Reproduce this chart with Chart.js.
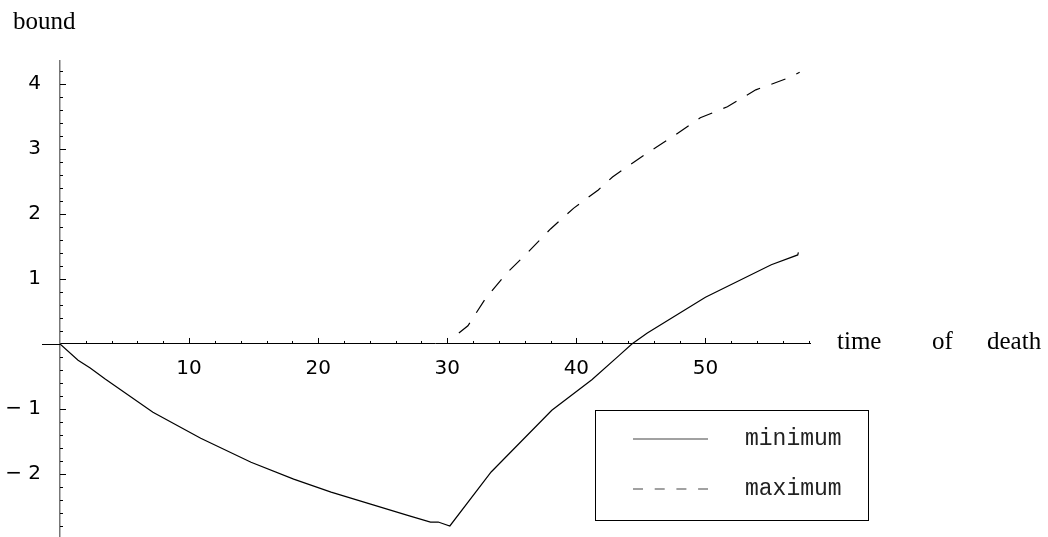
<!DOCTYPE html>
<html>
<head>
<meta charset="utf-8">
<style>
  html, body { margin: 0; padding: 0; background: #fff; }
  #wrap { width: 1048px; height: 537px; }
</style>
</head>
<body>
<div id="wrap"><canvas id="plot" width="1048" height="537"></canvas></div>
<script src="https://cdn.jsdelivr.net/npm/chart.js"></script>
<script>
// values
var minX = [0, 1.4, 2.34, 3.5, 7.2, 10.9, 14.8, 18.1, 21, 24, 27, 28.7, 29.3, 30.2, 33.4, 38.1, 41.2, 43.3, 44.3, 45.5, 50, 55.1, 57.15, 57.2];
var minY = [0, -0.25, -0.37, -0.54, -1.05, -1.45, -1.82, -2.08, -2.28, -2.46, -2.64, -2.74, -2.74, -2.80, -1.97, -1.02, -0.55, -0.18, 0, 0.17, 0.72, 1.22, 1.37, 1.41];
var maxX = [30.9, 31.6, 33, 34.6, 36.3, 38, 39.8, 41.7, 42.8, 45.5, 47.7, 49.6, 51.7, 53.9, 56.25, 57.3];
var maxY = [0.17, 0.28, 0.71, 1.09, 1.42, 1.77, 2.09, 2.37, 2.57, 2.94, 3.22, 3.48, 3.65, 3.91, 4.08, 4.18];

var xTicks = [10, 20, 30, 40, 50];
var yTicks = [-2, -1, 1, 2, 3, 4];
var yTitle = 'bound';
var xTitle = ['time', 'of', 'death'];
var seriesNames = ['minimum', 'maximum'];

function pts(xs, ys) {
  return xs.map(function (v, i) { return {x: v, y: ys[i]}; });
}

// inward tick marks, axis stub, titles and the boxed legend
var decor = {
  id: 'decor',
  afterDraw: function (chart) {
    var ctx = chart.ctx, xs = chart.scales.x, ys = chart.scales.y;
    var x0 = xs.getPixelForValue(0), y0 = ys.getPixelForValue(0);
    ctx.save();
    ctx.strokeStyle = '#000';
    ctx.lineWidth = 1;
    ctx.beginPath();
    ctx.moveTo(x0 - 18, Math.round(y0) + 0.5);
    ctx.lineTo(x0, Math.round(y0) + 0.5);
    for (var v = 2; v <= 58; v += 2) {
      var px = Math.round(xs.getPixelForValue(v)) + 0.5;
      var len = v % 10 === 0 ? 6 : 3;
      ctx.moveTo(px, y0);
      ctx.lineTo(px, y0 - len);
    }
    for (var k = -14; k <= 21; k++) {
      if (k === 0) continue;
      var py = Math.round(ys.getPixelForValue(k / 5)) + 0.5;
      var l2 = k % 5 === 0 ? 6 : 3;
      ctx.moveTo(x0, py);
      ctx.lineTo(x0 + l2, py);
    }
    ctx.stroke();

    ctx.fillStyle = '#000';
    ctx.font = '25px "Liberation Serif"';
    ctx.textBaseline = 'middle';
    ctx.textAlign = 'left';
    ctx.fillText(yTitle, 13, 22);
    var wx = [837, 932, 987];
    xTitle.forEach(function (w, i) { ctx.fillText(w, wx[i], y0 - 2); });

    // legend
    ctx.lineWidth = 1;
    ctx.strokeRect(595.5, 410.5, 273, 110);
    var rows = [439, 489];
    chart.data.datasets.forEach(function (ds, i) {
      ctx.beginPath();
      ctx.setLineDash(ds.borderDash ? [10, 11.7] : []);
      ctx.strokeStyle = '#444';
      ctx.lineWidth = 1.2;
      ctx.moveTo(633, rows[i]);
      ctx.lineTo(708, rows[i]);
      ctx.stroke();
      ctx.setLineDash([]);
      ctx.fillStyle = '#222';
      ctx.font = '23px "Liberation Mono"';
      ctx.fillText(ds.label, 745, rows[i]);
    });
    ctx.restore();
  }
};

function noPad(s) {
  s.paddingTop = 0; s.paddingBottom = 0; s.paddingLeft = 0; s.paddingRight = 0;
}

new Chart(document.getElementById('plot'), {
  type: 'line',
  data: {
    datasets: [{
      label: seriesNames[0],
      data: pts(minX, minY),
      borderColor: '#000',
      borderWidth: 1.2,
      pointRadius: 0,
      tension: 0,
      fill: false
    }, {
      label: seriesNames[1],
      data: pts(maxX, maxY),
      borderColor: '#000',
      borderWidth: 1.2,
      borderDash: [15, 12],
      pointRadius: 0,
      tension: 0,
      fill: false
    }]
  },
  options: {
    responsive: false,
    animation: false,
    layout: { padding: { left: 0, right: 238, top: 61, bottom: 0 } },
    plugins: { legend: { display: false }, tooltip: { enabled: false } },
    scales: {
      x: {
        type: 'linear',
        min: 0,
        max: 58.1,
        position: { y: 0 },
        grid: { display: false, drawTicks: false },
        border: { display: true, color: '#000', width: 1 },
        afterBuildTicks: function (s) { s.ticks = xTicks.map(function (v) { return {value: v}; }); },
        afterFit: function (s) { s.height = 0; noPad(s); },
        ticks: {
          autoSkip: false,
          maxRotation: 0,
          padding: 13,
          color: '#000',
          font: { family: 'DejaVu Sans', size: 20 }
        }
      },
      y: {
        type: 'linear',
        min: -2.97,
        max: 4.354,
        position: 'left',
        grid: { display: false, drawTicks: false },
        border: { display: true, color: '#777', width: 1.5 },
        afterBuildTicks: function (s) { s.ticks = yTicks.map(function (v) { return {value: v}; }); },
        afterFit: function (s) { s.width = 60; noPad(s); },
        ticks: {
          autoSkip: false,
          padding: 19,
          color: '#000',
          font: { family: 'DejaVu Sans', size: 20 },
          callback: function (v) { return v < 0 ? '\u2212 ' + (-v) : String(v); }
        }
      }
    }
  },
  plugins: [decor]
});
</script>
</body>
</html>
